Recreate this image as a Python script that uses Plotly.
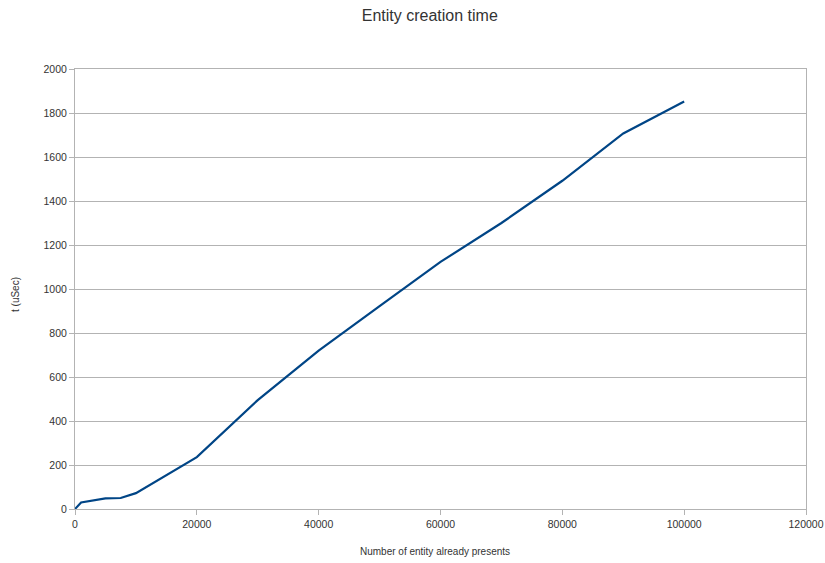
import plotly.graph_objects as go

entities = [0, 1000, 5000, 7500, 10000, 20000, 30000, 40000, 50000, 60000, 70000, 80000, 90000, 100000]
time_usec = [0, 30, 48, 50, 72, 236, 495, 720, 922, 1123, 1300, 1492, 1707, 1852]

fig = go.Figure()
fig.add_trace(go.Scatter(x=entities, y=time_usec, mode="lines",
                         line=dict(color="#004586", width=2.2), showlegend=False))

fig.update_layout(
    width=825, height=563,
    paper_bgcolor="white", plot_bgcolor="white",
    margin=dict(l=75, r=19, t=69, b=54, autoexpand=False),
    font=dict(family="Liberation Sans, Arial, sans-serif", color="#333333"),
    title=dict(text="Entity creation time", x=0.521, xanchor="center", y=0.973, yanchor="middle",
               font=dict(size=16, color="#333333")),
    annotations=[
        dict(text="Number of entity already presents", xref="paper", yref="paper",
             x=0.4925, y=-0.0955, xanchor="center", yanchor="middle", showarrow=False,
             font=dict(size=10, color="#333333")),
        dict(text="t (uSec)", xref="paper", yref="paper", textangle=-90,
             x=-0.0821, y=0.4886, xanchor="center", yanchor="middle", showarrow=False,
             font=dict(size=10, color="#333333")),
    ],
)
fig.update_xaxes(range=[0, 120000], tickvals=list(range(0, 120001, 20000)),
                 tickformat="d", showgrid=False, zeroline=False, automargin=False,
                 showline=True, linecolor="#b3b3b3", linewidth=1,
                 ticks="outside", ticklen=5, tickcolor="#b3b3b3",
                 tickfont=dict(size=10.5, color="#333333"),
                 mirror=True)
fig.update_yaxes(range=[0, 2000], tickvals=list(range(0, 2001, 200)),
                 showgrid=True, gridcolor="#b3b3b3", gridwidth=1, zeroline=False, automargin=False,
                 showline=True, linecolor="#b3b3b3", linewidth=1,
                 ticks="outside", ticklen=5, tickcolor="#b3b3b3",
                 tickfont=dict(size=10.5, color="#333333"),
                 mirror=True)

fig.write_html("out.html", config={"displayModeBar": False},
               post_script="document.body.style.margin='0px';document.body.style.overflow='hidden';")
